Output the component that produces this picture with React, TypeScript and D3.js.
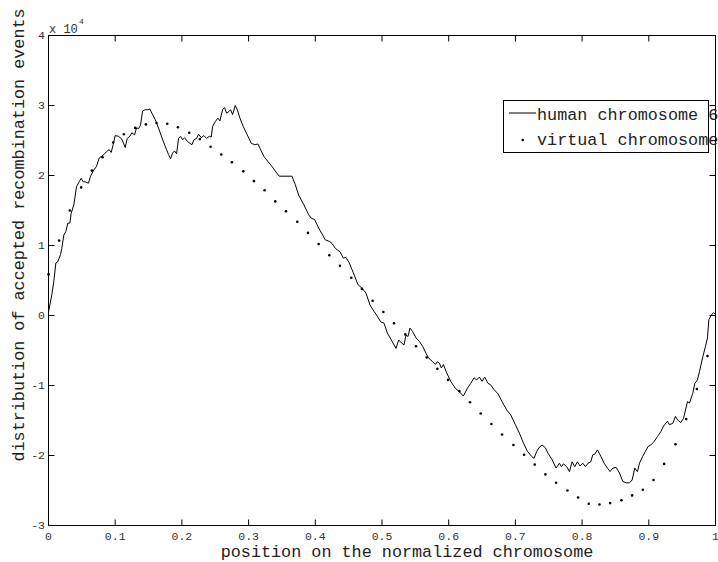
import * as d3 from "d3";

// human chromosome 6 trace (position, accepted events / 1e4)
const humanX = [
  0.0, 0.002, 0.005, 0.008, 0.011, 0.014, 0.018, 0.02, 0.023, 0.026, 0.029, 0.032, 0.034, 0.038,
  0.042, 0.046, 0.049, 0.052, 0.055, 0.06, 0.063, 0.068, 0.072, 0.076, 0.079, 0.083, 0.087, 0.091,
  0.094, 0.097, 0.1, 0.105, 0.11, 0.115, 0.118, 0.122, 0.125, 0.129, 0.132, 0.135, 0.138, 0.141,
  0.145, 0.149, 0.152, 0.155, 0.16, 0.166, 0.172, 0.177, 0.18, 0.183, 0.186, 0.189, 0.192, 0.195,
  0.198, 0.201, 0.204, 0.208, 0.212, 0.215, 0.218, 0.222, 0.225, 0.229, 0.233, 0.237, 0.241, 0.244,
  0.246, 0.25, 0.254, 0.257, 0.261, 0.264, 0.267, 0.27, 0.273, 0.276, 0.28, 0.283, 0.287, 0.292,
  0.298, 0.304, 0.309, 0.314, 0.317, 0.323, 0.329, 0.335, 0.341, 0.346, 0.365, 0.37, 0.375, 0.383,
  0.39, 0.394, 0.399, 0.405, 0.411, 0.415, 0.421, 0.425, 0.43, 0.437, 0.442, 0.446, 0.451, 0.457,
  0.464, 0.47, 0.476, 0.482, 0.488, 0.493, 0.498, 0.503, 0.508, 0.514, 0.521, 0.525, 0.529, 0.533,
  0.536, 0.539, 0.542, 0.546, 0.551, 0.556, 0.561, 0.566, 0.57, 0.576, 0.58, 0.583, 0.586, 0.589,
  0.592, 0.597, 0.603, 0.61, 0.616, 0.622, 0.628, 0.633, 0.638, 0.642, 0.646, 0.65, 0.654, 0.659,
  0.663, 0.668, 0.674, 0.68, 0.687, 0.693, 0.7, 0.706, 0.712, 0.718, 0.724, 0.728, 0.732, 0.736,
  0.74, 0.745, 0.749, 0.755, 0.761, 0.766, 0.769, 0.772, 0.777, 0.781, 0.785, 0.789, 0.793, 0.797,
  0.801, 0.805, 0.809, 0.813, 0.816, 0.819, 0.823, 0.828, 0.833, 0.838, 0.842, 0.846, 0.851, 0.856,
  0.861, 0.866, 0.871, 0.875, 0.879, 0.883, 0.886, 0.891, 0.895, 0.899, 0.903, 0.908, 0.913, 0.918,
  0.922, 0.928, 0.931, 0.936, 0.94, 0.943, 0.948, 0.952, 0.955, 0.958, 0.961, 0.966, 0.969, 0.973,
  0.976, 0.981, 0.985, 0.988, 0.99, 0.994, 0.997, 1.0,
];
const humanY = [
  0.05, 0.15, 0.3, 0.49, 0.75, 0.77, 0.87, 0.96, 1.15, 1.2, 1.32, 1.32, 1.46, 1.58,
  1.84, 1.91, 1.96, 1.91, 1.91, 1.89, 1.99, 2.08, 2.13, 2.25, 2.27, 2.3, 2.34, 2.37,
  2.33, 2.44, 2.57, 2.56, 2.52, 2.4, 2.53, 2.56, 2.61, 2.58, 2.68, 2.67, 2.72, 2.92,
  2.94, 2.94, 2.95, 2.89, 2.8, 2.65, 2.49, 2.37, 2.3, 2.24, 2.32, 2.35, 2.31, 2.53,
  2.56, 2.51, 2.54, 2.49, 2.46, 2.44, 2.51, 2.53, 2.59, 2.54, 2.57, 2.53, 2.56, 2.55,
  2.7, 2.77, 2.82, 2.78, 2.94, 2.97, 2.89, 2.91, 2.94, 2.87, 3.0, 2.94, 2.82, 2.7,
  2.58, 2.46, 2.44, 2.45, 2.39, 2.27, 2.2, 2.13, 2.05, 1.99, 1.99, 1.87, 1.72, 1.58,
  1.44, 1.39, 1.37, 1.25, 1.15, 1.08, 1.06, 1.03, 0.96, 0.91, 0.82, 0.83, 0.75, 0.61,
  0.44, 0.39, 0.32, 0.15, 0.06, -0.01, -0.09, -0.11, -0.25, -0.35, -0.47, -0.35, -0.39, -0.42,
  -0.28, -0.3, -0.18, -0.23, -0.32, -0.37, -0.44, -0.54, -0.61, -0.66, -0.7, -0.66, -0.68, -0.75,
  -0.7, -0.82, -0.94, -1.04, -1.09, -1.15, -1.04, -0.97, -0.89, -0.92, -0.88, -0.94, -0.88, -0.97,
  -0.99, -1.06, -1.12, -1.23, -1.35, -1.42, -1.56, -1.68, -1.82, -1.94, -2.01, -2.04, -1.94, -1.88,
  -1.85, -1.89, -1.97, -2.06, -2.18, -2.11, -2.16, -2.12, -2.16, -2.23, -2.09, -2.16, -2.09, -2.15,
  -2.11, -2.16, -2.11, -2.09, -1.99, -1.98, -1.92, -2.01, -2.11, -2.18, -2.23, -2.18, -2.17, -2.25,
  -2.37, -2.39, -2.39, -2.35, -2.18, -2.23, -2.11, -2.01, -1.94, -1.87, -1.85, -1.8, -1.73, -1.66,
  -1.58, -1.51, -1.56, -1.54, -1.44, -1.49, -1.53, -1.47, -1.35, -1.23, -1.25, -1.11, -0.97, -0.92,
  -0.8, -0.59, -0.44, -0.32, -0.06, 0.01, 0.04, 0.02,
];

// virtual chromosome samples
const virtualX = [
  0.0, 0.016, 0.032, 0.049, 0.065, 0.081, 0.097, 0.113, 0.13, 0.146, 0.162, 0.178, 0.194, 0.211,
  0.227, 0.243, 0.259, 0.275, 0.292, 0.308, 0.324, 0.34, 0.356, 0.373, 0.389, 0.405, 0.421, 0.437,
  0.454, 0.47, 0.486, 0.502, 0.518, 0.535, 0.551, 0.567, 0.583, 0.599, 0.616, 0.632, 0.648, 0.664,
  0.68, 0.697, 0.713, 0.729, 0.745, 0.761, 0.778, 0.794, 0.81, 0.826, 0.842, 0.859, 0.875, 0.891,
  0.907, 0.923, 0.94, 0.956, 0.972, 0.988,
];
const virtualY = [
  0.59, 1.07, 1.5, 1.83, 2.07, 2.26, 2.47, 2.59, 2.68, 2.73, 2.75, 2.74, 2.69, 2.61,
  2.52, 2.41, 2.3, 2.19, 2.06, 1.92, 1.79, 1.63, 1.49, 1.34, 1.18, 1.02, 0.86, 0.71,
  0.54, 0.38, 0.21, 0.05, -0.11, -0.27, -0.44, -0.6, -0.76, -0.92, -1.08, -1.24, -1.4, -1.55,
  -1.7, -1.85, -1.99, -2.13, -2.27, -2.39, -2.5, -2.6, -2.69, -2.7, -2.68, -2.64, -2.57, -2.49,
  -2.35, -2.12, -1.84, -1.48, -1.05, -0.58,
];

const xTicks = [0, 0.1, 0.2, 0.3, 0.4, 0.5, 0.6, 0.7, 0.8, 0.9, 1];
const yTicks = [-3, -2, -1, 0, 1, 2, 3, 4];
const legendLabels = ["human chromosome 6", "virtual chromosome"];

const W = 718;
const H = 562;
const MONO = "'Liberation Mono', 'DejaVu Sans Mono', monospace";

export default function App() {
  const x = d3.scaleLinear().domain([0, 1]).range([48.5, 715.5]);
  const y = d3.scaleLinear().domain([-3, 4]).range([525.5, 35.5]);
  const [x0, x1] = x.range();
  const [yb, yt] = y.range();

  const human = humanX.map((v, i) => [v, humanY[i]] as [number, number]);
  const line = d3
    .line<[number, number]>()
    .x((d) => x(d[0]))
    .y((d) => y(d[1]));

  const tickLen = 6;
  const lg = { x: 503.5, y: 100.5, w: 205, h: 52 };

  return (
    <svg
      width={W}
      height={H}
      style={{ position: "fixed", left: 0, top: 0, background: "#fff" }}
      fontFamily={MONO}
    >
      <rect x={0} y={0} width={W} height={H} fill="#fff" />

      {/* data */}
      <path d={line(human) ?? ""} fill="none" stroke="#000" strokeWidth={1} />
      {virtualX.map((v, i) => (
        <circle key={i} cx={x(v)} cy={y(virtualY[i])} r={1.3} fill="#000" />
      ))}

      {/* axes box */}
      <rect x={x0} y={yt} width={x1 - x0} height={yb - yt} fill="none" stroke="#000" strokeWidth={1} />
      {xTicks.map((t) => (
        <g key={`x${t}`}>
          <line x1={x(t)} x2={x(t)} y1={yb} y2={yb - tickLen} stroke="#000" />
          <line x1={x(t)} x2={x(t)} y1={yt} y2={yt + tickLen} stroke="#000" />
          <text x={x(t)} y={540} fontSize={11.5} textAnchor="middle" fill="#333">
            {t}
          </text>
        </g>
      ))}
      {yTicks.map((t) => (
        <g key={`y${t}`}>
          <line x1={x0} x2={x0 + tickLen} y1={y(t)} y2={y(t)} stroke="#000" />
          <line x1={x1} x2={x1 - tickLen} y1={y(t)} y2={y(t)} stroke="#000" />
          <text x={45} y={y(t)} fontSize={11.5} textAnchor="end" dominantBaseline="central" fill="#333">
            {t}
          </text>
        </g>
      ))}

      {/* exponent */}
      <text x={49} y={33} fontSize={12} fill="#333">
        x 10
      </text>
      <text x={79} y={24} fontSize={8} fill="#333">
        4
      </text>

      {/* axis labels */}
      <text x={407} y={557} fontSize={16.8} textAnchor="middle" fill="#222">
        position on the normalized chromosome
      </text>
      <text
        transform="translate(24,235) rotate(-90)"
        fontSize={16.8}
        textAnchor="middle"
        fill="#222"
      >
        distribution of accepted recombination events
      </text>

      {/* legend */}
      <rect x={lg.x} y={lg.y} width={lg.w} height={lg.h} fill="#fff" stroke="#000" strokeWidth={1} />
      <line x1={509} x2={536} y1={113} y2={113} stroke="#000" />
      <circle cx={522.7} cy={140} r={1.3} fill="#000" />
      {legendLabels.map((l, i) => (
        <text key={l} x={537} y={115 + i * 25} fontSize={16.8} dominantBaseline="central" fill="#222">
          {l}
        </text>
      ))}
    </svg>
  );
}
